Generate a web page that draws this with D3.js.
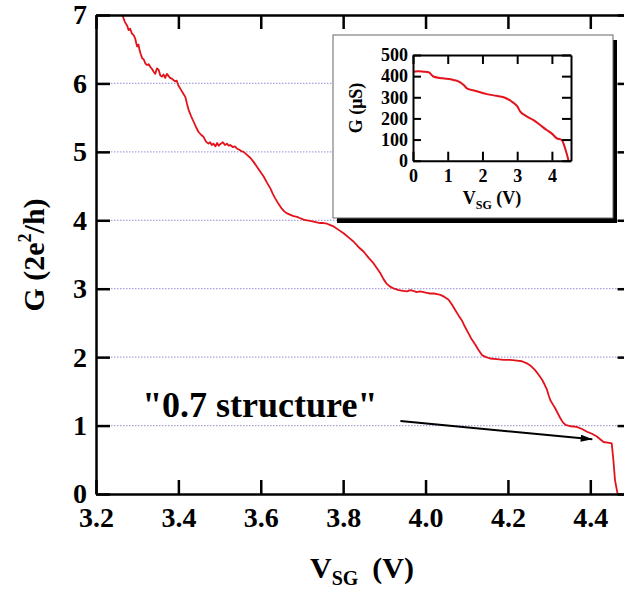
<!DOCTYPE html>
<html>
<head>
<meta charset="utf-8">
<script src="https://cdn.jsdelivr.net/npm/d3@7"></script>
<style>
  body { margin: 0; background: #fff; }
  svg { display: block; }
  text { font-family: "Liberation Serif", "Times New Roman", serif; font-weight: bold; }
</style>
</head>
<body>
<div id="chart"></div>
<script>
// main trace: gate voltage (V) and conductance (2e^2/h)
var vsg = [3.264, 3.270, 3.276, 3.279, 3.283, 3.287, 3.291, 3.295, 3.298, 3.300, 3.303, 3.306, 3.308, 3.312, 3.316, 3.320, 3.324, 3.328, 3.332, 3.336, 3.340, 3.344, 3.348, 3.352, 3.356, 3.360, 3.364, 3.368, 3.372, 3.376, 3.380, 3.384, 3.388, 3.392, 3.396, 3.400, 3.405, 3.411, 3.417, 3.421, 3.425, 3.431, 3.437, 3.443, 3.449, 3.455, 3.461, 3.467, 3.473, 3.477, 3.481, 3.485, 3.490, 3.494, 3.498, 3.503, 3.508, 3.513, 3.518, 3.522, 3.526, 3.532, 3.537, 3.542, 3.548, 3.553, 3.558, 3.566, 3.575, 3.583, 3.591, 3.599, 3.607, 3.615, 3.623, 3.629, 3.635, 3.643, 3.651, 3.657, 3.664, 3.672, 3.680, 3.688, 3.696, 3.704, 3.712, 3.720, 3.728, 3.736, 3.744, 3.752, 3.761, 3.769, 3.777, 3.789, 3.801, 3.813, 3.825, 3.837, 3.850, 3.862, 3.874, 3.882, 3.890, 3.898, 3.906, 3.914, 3.924, 3.935, 3.945, 3.955, 3.963, 3.970, 3.978, 3.987, 3.995, 4.003, 4.011, 4.020, 4.028, 4.036, 4.046, 4.056, 4.064, 4.072, 4.080, 4.088, 4.096, 4.104, 4.112, 4.121, 4.129, 4.137, 4.147, 4.157, 4.173, 4.189, 4.205, 4.222, 4.234, 4.246, 4.256, 4.266, 4.275, 4.283, 4.289, 4.295, 4.299, 4.303, 4.309, 4.315, 4.321, 4.327, 4.333, 4.340, 4.353, 4.367, 4.380, 4.392, 4.404, 4.416, 4.424, 4.432, 4.442, 4.452, 4.456, 4.460, 4.466];
var gMain = [7.00, 6.90, 6.84, 6.78, 6.80, 6.73, 6.71, 6.66, 6.58, 6.54, 6.57, 6.48, 6.44, 6.37, 6.35, 6.29, 6.27, 6.28, 6.24, 6.21, 6.17, 6.14, 6.22, 6.20, 6.12, 6.10, 6.13, 6.08, 6.14, 6.11, 6.08, 6.07, 6.05, 6.03, 6.04, 5.97, 5.92, 5.86, 5.80, 5.70, 5.61, 5.52, 5.44, 5.36, 5.29, 5.25, 5.22, 5.15, 5.12, 5.14, 5.10, 5.12, 5.08, 5.13, 5.09, 5.12, 5.14, 5.10, 5.12, 5.09, 5.10, 5.07, 5.08, 5.05, 5.03, 5.01, 5.00, 4.96, 4.91, 4.85, 4.78, 4.71, 4.64, 4.55, 4.47, 4.39, 4.32, 4.24, 4.17, 4.13, 4.10, 4.08, 4.06, 4.05, 4.03, 4.01, 4.00, 3.99, 3.98, 3.97, 3.96, 3.96, 3.95, 3.93, 3.91, 3.86, 3.81, 3.75, 3.69, 3.61, 3.54, 3.45, 3.37, 3.30, 3.23, 3.14, 3.07, 3.03, 3.00, 2.98, 2.97, 2.96, 2.98, 2.97, 2.95, 2.96, 2.95, 2.94, 2.93, 2.93, 2.92, 2.91, 2.88, 2.84, 2.77, 2.69, 2.61, 2.54, 2.44, 2.35, 2.26, 2.18, 2.10, 2.03, 2.00, 1.98, 1.97, 1.96, 1.96, 1.95, 1.94, 1.91, 1.87, 1.81, 1.74, 1.67, 1.60, 1.52, 1.44, 1.37, 1.31, 1.25, 1.18, 1.11, 1.05, 1.01, 0.99, 0.98, 0.95, 0.91, 0.88, 0.84, 0.80, 0.76, 0.75, 0.74, 0.50, 0.20, 0.01];
var xTicks = [3.2, 3.4, 3.6, 3.8, 4.0, 4.2, 4.4];
var yTicks = [0, 1, 2, 3, 4, 5, 6, 7];
var gridLevels = [1, 2, 3, 4, 5, 6];

// inset trace: full range, G in microsiemens
var vInset = [0, 0.15, 0.30, 0.45, 0.60, 0.85, 1.17, 1.35, 1.46, 1.55, 1.80, 2.13, 2.40, 2.61, 2.85, 3.00, 3.09, 3.25, 3.47, 3.65, 3.85, 4.00, 4.14, 4.28, 4.38, 4.45, 4.48];
var gInset = [421, 423, 421, 418, 397, 390, 382, 372, 358, 342, 330, 315, 307, 300, 279, 258, 232, 212, 192, 170, 145, 128, 106, 98, 59, 19, 0];
var insetXTicks = [0, 1, 2, 3, 4];
var insetYTicks = [0, 100, 200, 300, 400, 500];

var W = 624, H = 592;
var svg = d3.select('#chart').append('svg').attr('width', W).attr('height', H);

var x = d3.scaleLinear().domain([3.2, 4.5]).range([96, 631.5]);
var y = d3.scaleLinear().domain([0, 7]).range([494, 15]);

// dotted grid
svg.append('g').selectAll('line')
    .data(gridLevels)
    .enter().append('line')
    .attr('x1', x(3.2)).attr('x2', x(4.5))
    .attr('y1', function(d) { return y(d); })
    .attr('y2', function(d) { return y(d); })
    .attr('stroke', '#a4a4e0')
    .attr('stroke-width', 1.2)
    .attr('stroke-dasharray', '1.5,1.5');

var line = d3.line()
    .x(function(d) { return x(d[0]); })
    .y(function(d) { return y(d[1]); });
svg.append('path')
    .datum(d3.zip(vsg, gMain))
    .attr('d', line)
    .attr('fill', 'none')
    .attr('stroke', '#e3121b')
    .attr('stroke-width', 1.8)
    .attr('stroke-linejoin', 'round');

function styleAxis(g, fs) {
    g.select('.domain').attr('stroke', '#000').attr('stroke-width', 2.5);
    g.selectAll('.tick line').attr('stroke', '#000').attr('stroke-width', 2.5);
    g.selectAll('.tick text').attr('font-size', fs).attr('fill', '#000')
        .attr('font-family', '"Liberation Serif", serif').attr('font-weight', 'bold');
}

var fmt1 = d3.format('.1f');
svg.append('g').attr('transform', 'translate(0,' + y(0) + ')')
    .call(d3.axisBottom(x).tickValues(xTicks).tickFormat(fmt1).tickSize(-14).tickSizeOuter(0).tickPadding(13))
    .call(styleAxis, 28);
svg.append('g').attr('transform', 'translate(0,' + y(7) + ')')
    .call(d3.axisTop(x).tickValues(xTicks).tickFormat('').tickSize(-14).tickSizeOuter(0))
    .call(styleAxis, 28);
svg.append('g').attr('transform', 'translate(' + x(3.2) + ',0)')
    .call(d3.axisLeft(y).tickValues(yTicks).tickFormat(d3.format('d')).tickSize(-14).tickSizeOuter(0).tickPadding(9))
    .call(styleAxis, 28);
svg.append('g').attr('transform', 'translate(' + x(4.5) + ',0)')
    .call(d3.axisRight(y).tickValues(yTicks).tickFormat('').tickSize(-14).tickSizeOuter(0))
    .call(styleAxis, 28);

// axis titles
var yl = svg.append('text')
    .attr('transform', 'translate(44,255) rotate(-90)')
    .attr('text-anchor', 'middle')
    .attr('font-size', 30);
yl.append('tspan').text('G (2e');
yl.append('tspan').attr('font-size', 18).attr('dy', -13).text('2');
yl.append('tspan').attr('dy', 13).text('/h)');

var xl = svg.append('text')
    .attr('x', 362).attr('y', 578)
    .attr('text-anchor', 'middle')
    .attr('font-size', 30);
xl.append('tspan').text('V');
xl.append('tspan').attr('font-size', 20).attr('dy', 7).text('SG');
xl.append('tspan').attr('dy', -7).attr('dx', 14).text('(V)');

// annotation
var arrowFrom = [3.939, 1.067], arrowTo = [4.405, 0.80];
svg.append('defs').append('marker')
    .attr('id', 'head').attr('viewBox', '0 0 10 6')
    .attr('refX', 10).attr('refY', 3)
    .attr('markerWidth', 14).attr('markerHeight', 7)
    .attr('markerUnits', 'userSpaceOnUse')
    .attr('orient', 'auto')
    .append('path').attr('d', 'M0,0 L10,3 L0,6 Z').attr('fill', '#000');
svg.append('line')
    .attr('x1', x(arrowFrom[0])).attr('y1', y(arrowFrom[1]))
    .attr('x2', x(arrowTo[0])).attr('y2', y(arrowTo[1]))
    .attr('stroke', '#000').attr('stroke-width', 2)
    .attr('marker-end', 'url(#head)');
svg.append('text')
    .attr('x', x(3.312)).attr('y', y(1.13))
    .attr('font-size', 36)
    .text('"0.7 structure"');

// inset
var box = { x: 333, y: 35, w: 280, h: 183 };
svg.append('rect')
    .attr('x', box.x + 4).attr('y', box.y + 5)
    .attr('width', box.w).attr('height', box.h)
    .attr('fill', '#000');
svg.append('rect')
    .attr('x', box.x).attr('y', box.y)
    .attr('width', box.w).attr('height', box.h)
    .attr('fill', '#fff').attr('stroke', '#666').attr('stroke-width', 1);

var xi = d3.scaleLinear().domain([0, 4.55]).range([413, 571]);
var yi = d3.scaleLinear().domain([0, 500]).range([160.7, 55]);
var inset = svg.append('g');

inset.append('path')
    .datum(d3.zip(vInset, gInset))
    .attr('d', d3.line().x(function(d) { return xi(d[0]); }).y(function(d) { return yi(d[1]); }).curve(d3.curveMonotoneX))
    .attr('fill', 'none')
    .attr('stroke', '#e3121b')
    .attr('stroke-width', 2);

function styleInset(g) {
    g.select('.domain').attr('stroke', '#000').attr('stroke-width', 2);
    g.selectAll('.tick line').attr('stroke', '#000').attr('stroke-width', 2);
    g.selectAll('.tick text').attr('font-size', 18).attr('fill', '#000')
        .attr('font-family', '"Liberation Serif", serif').attr('font-weight', 'bold');
}
inset.append('g').attr('transform', 'translate(0,' + yi(0) + ')')
    .call(d3.axisBottom(xi).tickValues(insetXTicks).tickFormat(d3.format('d')).tickSize(-9).tickSizeOuter(0).tickPadding(9))
    .call(styleInset);
inset.append('g').attr('transform', 'translate(0,' + yi(500) + ')')
    .call(d3.axisTop(xi).tickValues(insetXTicks).tickFormat('').tickSize(-9).tickSizeOuter(0))
    .call(styleInset);
inset.append('g').attr('transform', 'translate(' + xi(0) + ',0)')
    .call(d3.axisLeft(yi).tickValues(insetYTicks).tickFormat(d3.format('d')).tickSize(-8).tickSizeOuter(0).tickPadding(5))
    .call(styleInset);
inset.append('g').attr('transform', 'translate(' + xi(4.55) + ',0)')
    .call(d3.axisRight(yi).tickValues(insetYTicks).tickFormat('').tickSize(-9).tickSizeOuter(0))
    .call(styleInset);

inset.append('text')
    .attr('transform', 'translate(362,108) rotate(-90)')
    .attr('text-anchor', 'middle')
    .attr('font-size', 18)
    .text('G (\u03bcS)');
var xil = inset.append('text')
    .attr('x', 492).attr('y', 204)
    .attr('text-anchor', 'middle')
    .attr('font-size', 18);
xil.append('tspan').text('V');
xil.append('tspan').attr('font-size', 12).attr('dy', 5).text('SG');
xil.append('tspan').attr('dy', -5).text(' (V)');
</script>
</body>
</html>
